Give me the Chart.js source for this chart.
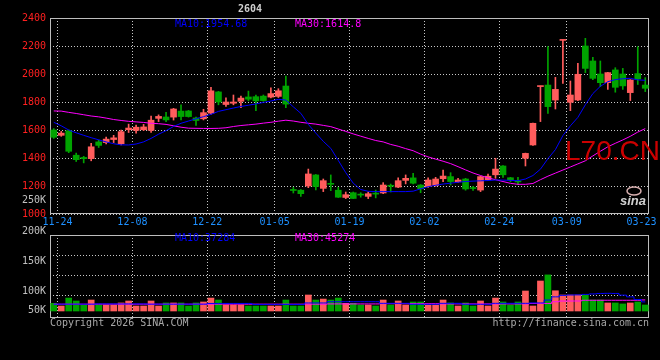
<!DOCTYPE html>
<html>
<head>
<meta charset="utf-8">
<script src="https://cdn.jsdelivr.net/npm/chart.js@4/dist/chart.umd.min.js"></script>
<style>
html, body { margin: 0; padding: 0; background: #000; }
#wrap { position: relative; width: 660px; height: 360px; background: #000; overflow: hidden; }
#wrap canvas { position: absolute; left: 0; top: 0; }
</style>
</head>
<body>
<div id="wrap">
  <canvas id="kline" width="660" height="360"></canvas>
  <canvas id="vol" width="660" height="360"></canvas>
</div>
<script>
const dates = [
  '11-21','11-24','11-25','11-26','11-27','11-28',
  '12-01','12-02','12-03','12-04','12-05',
  '12-08','12-09','12-10','12-11','12-12',
  '12-15','12-16','12-17','12-18','12-19',
  '12-22','12-23','12-24','12-25','12-26',
  '12-29','12-30','12-31','01-02',
  '01-05','01-06','01-07','01-08','01-09',
  '01-12','01-13','01-14','01-15','01-16',
  '01-19','01-20','01-21','01-22','01-23',
  '01-26','01-27','01-28','01-29','01-30',
  '02-02','02-03','02-04','02-05','02-06',
  '02-09','02-10','02-11','02-12','02-13',
  '02-24','02-25','02-26','02-27',
  '03-02','03-03','03-04','03-05','03-06',
  '03-09','03-10','03-11','03-12','03-13',
  '03-16','03-17','03-18','03-19','03-20',
  '03-23'
];
const shownDates = ['11-24','12-08','12-22','01-05','01-19','02-02','02-24','03-09','03-23'];

const opens = [
  1600,1562,1595,1420,1404,1395,1515,1510,1532,1502,
  1602,1597,1602,1597,1683,1693,1692,1735,1736,1686,
  1680,1720,1872,1782,1791,1805,1836,1838,1842,1835,
  1840,1914,1175,1170,1200,1279,1183,1215,1170,1118,
  1152,1138,1126,1145,1150,1202,1192,1240,1258,1207,
  1196,1203,1252,1267,1230,1250,1186,1171,1245,1280,
  1343,1259,1233,1398,1493,1910,1921,1814,2240,1798,
  1814,2200,2093,2000,1938,2029,2000,1867,2003,1921
];
const closes = [
  1548,1578,1448,1388,1395,1480,1490,1535,1544,1588,
  1614,1620,1622,1670,1697,1672,1750,1696,1696,1668,
  1724,1880,1800,1800,1800,1828,1820,1808,1810,1860,
  1880,1785,1168,1145,1286,1196,1238,1212,1120,1138,
  1111,1135,1145,1142,1207,1198,1238,1255,1220,1180,
  1243,1250,1271,1232,1243,1179,1182,1267,1270,1321,
  1280,1245,1229,1433,1648,1914,1767,1890,2243,1850,
  1998,2040,1969,1938,2010,1905,1915,1957,1964,1898
];
const highs = [
  1610,1590,1600,1435,1412,1505,1528,1550,1562,1600,
  1642,1636,1640,1700,1708,1726,1755,1779,1740,1692,
  1748,1905,1876,1830,1850,1843,1878,1850,1850,1902,
  1895,1986,1190,1175,1321,1282,1250,1279,1190,1157,
  1157,1152,1157,1171,1224,1214,1259,1279,1290,1210,
  1259,1262,1314,1295,1255,1255,1198,1270,1285,1398,
  1345,1262,1262,1435,1650,1914,2195,1976,2243,1950,
  2076,2255,2119,2093,2012,2045,2040,1960,2195,1974
];
const lows = [
  1540,1555,1438,1375,1365,1380,1475,1500,1510,1493,
  1582,1578,1595,1583,1660,1660,1671,1672,1692,1632,
  1672,1712,1780,1768,1780,1760,1808,1738,1805,1830,
  1832,1760,1150,1125,1188,1172,1160,1167,1118,1110,
  1110,1120,1110,1115,1145,1157,1188,1215,1215,1152,
  1190,1198,1231,1207,1226,1170,1168,1160,1238,1255,
  1262,1230,1210,1343,1490,1660,1719,1750,1933,1738,
  1810,2010,1960,1910,1890,1870,1890,1810,1925,1874
];
const ma10 = [
  1655,1630,1600,1580,1562,1545,1530,1515,1502,1494,
  1493,1500,1515,1540,1570,1595,1625,1648,1664,1680,
  1695,1712,1733,1745,1757,1768,1777,1786,1797,1807,
  1819,1814,1765,1719,1640,1578,1519,1469,1383,1295,
  1220,1175,1162,1160,1160,1160,1160,1160,1163,1180,
  1195,1205,1214,1220,1227,1232,1235,1237,1239,1243,
  1242,1240,1238,1250,1275,1320,1395,1460,1560,1630,
  1690,1780,1860,1912,1945,1960,1966,1969,1958,1955
];
const ma30 = [
  1736,1735,1726,1718,1709,1700,1694,1685,1675,1668,
  1662,1658,1654,1648,1645,1640,1630,1620,1613,1612,
  1611,1611,1612,1616,1625,1632,1637,1642,1649,1655,
  1663,1670,1664,1655,1648,1642,1633,1624,1607,1590,
  1572,1556,1540,1525,1515,1497,1484,1467,1452,1428,
  1408,1392,1377,1360,1338,1315,1293,1275,1258,1245,
  1232,1219,1212,1212,1218,1245,1270,1292,1314,1336,
  1358,1380,1415,1448,1480,1505,1529,1555,1585,1610
];
const ma10Text = 'MA10:1954.68';
const ma30Text = 'MA30:1614.8';

const volumes = [
  31500,20500,53000,41000,24600,45000,24600,24600,24600,33000,
  41000,20500,20500,41000,20500,33000,33000,33000,20500,33000,
  37000,53000,45000,24600,24600,24600,20500,20500,20500,20500,
  20500,45000,20500,20500,65600,45000,49000,45000,53000,31500,
  31500,24600,24600,20500,45000,24600,41000,24600,37000,37000,
  24600,24600,45000,33000,20500,33000,20500,41000,20500,53000,
  37000,24600,37000,82000,20500,123000,148000,83000,65600,65600,
  65600,65600,45000,45000,33000,33000,29000,33000,37000,24600
];
const volMa10 = [
  28000,28000,28000,28000,28000,28000,29000,29000,29000,29000,
  29000,29000,29000,28000,28000,28000,28000,28000,28000,28000,
  28000,31000,31000,31000,31000,31000,31000,27000,27000,27000,
  27000,27000,27000,27000,33000,33000,33000,38000,38000,38000,
  38000,38000,38000,38000,31500,31500,31500,31500,27500,27500,
  27500,27500,31500,31500,31500,27500,27500,27500,27500,31500,
  31500,31500,31500,31500,33000,33000,45000,58000,64000,65600,
  66000,68000,70000,72000,72500,72000,65000,58000,47000,37300
];
const volMa30 = [
  28000,28000,28000,28000,28000,28000,28000,28000,28000,28000,
  28000,28000,28000,28000,28000,28000,28000,28000,28000,28000,
  28000,28000,28000,28000,28000,28000,28000,28000,28000,28000,
  28000,28000,28000,28000,28000,28000,28000,29000,29000,29000,
  29000,29000,29000,29000,30000,30000,30000,30000,30000,30000,
  30000,30000,29000,29000,29000,29000,29000,29000,29000,29000,
  29000,29000,29000,29000,31000,31000,31000,38000,41000,41000,
  41000,44000,44000,44000,44000,44000,44000,44000,44000,45300
];
const volMa10Text = 'MA10:37284';
const volMa30Text = 'MA30:45274';
const volTickLabels = ['200K', '150K', '100K', '50K'];

const RED = '#ff5c5c';
const GREEN = '#00a400';
const GRID = '#c8c8c8';
const MONO = "'DejaVu Sans Mono', monospace";

Chart.defaults.font.family = MONO;
Chart.defaults.font.size = 10;

const candleColor = (ctx) => closes[ctx.dataIndex] >= opens[ctx.dataIndex] ? RED : GREEN;
const dateGrid = (ctx) => {
  const i = ctx.index;
  return (i < dates.length - 1 && shownDates.includes(dates[i])) ? GRID : 'rgba(0,0,0,0)';
};

function frame(chart) {
  const { ctx, chartArea: a } = chart;
  ctx.save();
  ctx.strokeStyle = '#bdbdbd';
  ctx.lineWidth = 1;
  ctx.strokeRect(a.left + 0.5, a.top + 0.5, a.width - 1, a.height - 1);
  ctx.restore();
}

function text(ctx, str, x, y, color, align, font) {
  ctx.font = font || ('10px ' + MONO);
  ctx.fillStyle = color;
  ctx.textAlign = align || 'left';
  ctx.textBaseline = 'middle';
  ctx.fillText(str, x, y);
}

const klineDeco = {
  id: 'klineDeco',
  beforeDatasetsDraw(chart) { frame(chart); },
  afterDraw(chart) {
    const ctx = chart.ctx;
    ctx.save();
    text(ctx, '2604', 250, 9, '#cfcfcf', 'center', 'bold 10px ' + MONO);
    text(ctx, ma10Text, 175, 24, '#0000ff');
    text(ctx, ma30Text, 295, 24, '#ff00ff');
    text(ctx, '250K', 46, 200, '#c0c0c0', 'right');
    ctx.textBaseline = 'alphabetic';
    ctx.font = "28px 'Liberation Sans', Arial, sans-serif";
    ctx.fillStyle = '#cc0000';
    ctx.textAlign = 'left';
    ctx.fillText('L70.CN', 565, 160);
    // sina watermark
    ctx.strokeStyle = '#d8b0b0';
    ctx.lineWidth = 1.5;
    ctx.beginPath();
    ctx.ellipse(634, 191, 7, 4, 0, 0, Math.PI * 2);
    ctx.stroke();
    ctx.font = "italic bold 13px 'Liberation Sans', Arial, sans-serif";
    ctx.fillStyle = '#d0d0d0';
    ctx.fillText('sina', 620, 205);
    ctx.restore();
  }
};

const volDeco = {
  id: 'volDeco',
  beforeDatasetsDraw(chart) { frame(chart); },
  afterDraw(chart) {
    const ctx = chart.ctx;
    ctx.save();
    text(ctx, volMa10Text, 175, 238, '#0000ff');
    text(ctx, volMa30Text, 295, 238, '#ff00ff');
    const ys = [231, 261, 291, 310];
    volTickLabels.forEach((t, i) => text(ctx, t, 46, ys[i], '#c0c0c0', 'right'));
    text(ctx, 'Copyright 2026 SINA.COM', 50, 323, '#a8a8a8');
    text(ctx, 'http://finance.sina.com.cn', 649, 323, '#a8a8a8', 'right');
    ctx.restore();
  }
};

const xScale = (showLabels, height) => ({
  offset: true,
  grid: { offset: true, drawTicks: false, color: dateGrid },
  border: { display: false, dash: [1, 2] },
  ticks: {
    display: showLabels,
    autoSkip: false,
    maxRotation: 0,
    color: '#1e90ff',
    padding: 2,
    labelOffset: -3.7,
    callback: (v, i) => shownDates.includes(dates[i]) ? dates[i] : ''
  },
  afterFit: (s) => { s.height = height; s.paddingLeft = 0; s.paddingRight = 0; }
});

new Chart(document.getElementById('kline'), {
  type: 'bar',
  data: {
    labels: dates,
    datasets: [
      { type: 'line', data: ma10, borderColor: '#0000ff', borderWidth: 1, pointRadius: 0, order: 0 },
      { type: 'line', data: ma30, borderColor: '#ff00ff', borderWidth: 1, pointRadius: 0, order: 0 },
      { data: lows.map((l, i) => [l, highs[i]]), backgroundColor: candleColor, barThickness: 1, grouped: false, order: 2 },
      { data: opens.map((o, i) => [o, closes[i]]), backgroundColor: candleColor, barThickness: 6, minBarLength: 1, grouped: false, order: 1 }
    ]
  },
  options: {
    responsive: false,
    animation: false,
    layout: { autoPadding: false, padding: { top: 18, right: 11, left: 0, bottom: 0 } },
    plugins: { legend: { display: false }, tooltip: { enabled: false } },
    scales: {
      x: xScale(true, 146),
      y: {
        min: 1000,
        max: 2400,
        ticks: { stepSize: 200, color: '#ff2020', padding: 4, callback: (v) => String(v) },
        grid: { color: GRID, drawTicks: false },
        border: { display: false, dash: [1, 2] },
        afterFit: (s) => { s.width = 50; s.paddingTop = 0; s.paddingBottom = 0; }
      }
    }
  },
  plugins: [klineDeco]
});

new Chart(document.getElementById('vol'), {
  type: 'bar',
  data: {
    labels: dates,
    datasets: [
      { type: 'line', data: volMa10, borderColor: '#0000ff', borderWidth: 1, pointRadius: 0, stepped: 'middle', order: 0 },
      { type: 'line', data: volMa30, borderColor: '#ff00ff', borderWidth: 1, pointRadius: 0, stepped: 'middle', order: 0 },
      { data: volumes, backgroundColor: candleColor, barThickness: 6, order: 1 }
    ]
  },
  options: {
    responsive: false,
    animation: false,
    layout: { autoPadding: false, padding: { top: 235, right: 11, left: 0, bottom: 0 } },
    plugins: { legend: { display: false }, tooltip: { enabled: false } },
    scales: {
      x: xScale(false, 42),
      y: {
        min: -28700,
        max: 311600,
        afterBuildTicks: (s) => { s.ticks = [65600, 147600, 229600].map(v => ({ value: v })); },
        ticks: { display: false },
        grid: { color: GRID, drawTicks: false },
        border: { display: false, dash: [1, 2] },
        afterFit: (s) => { s.width = 50; }
      }
    }
  },
  plugins: [volDeco]
});
</script>
</body>
</html>
